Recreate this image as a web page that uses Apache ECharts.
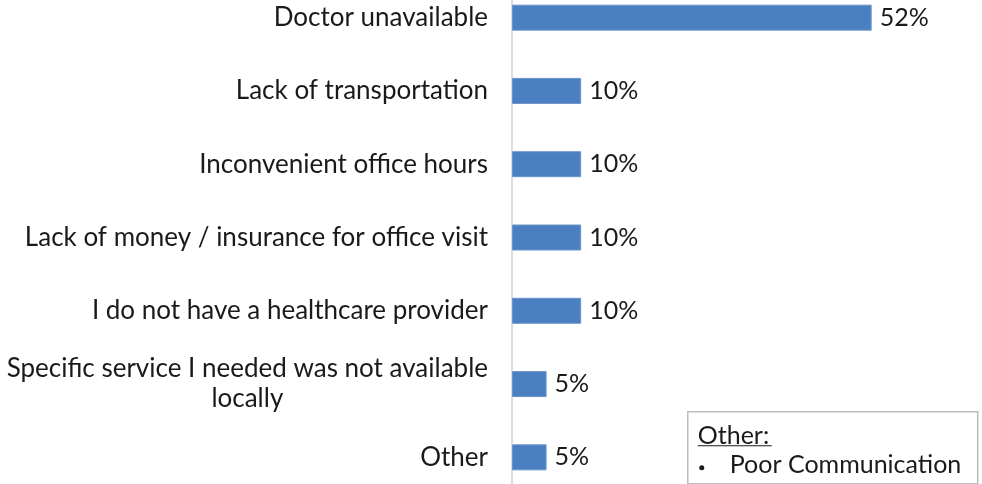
<!DOCTYPE html>
<html>
<head>
<meta charset="utf-8">
<script src="https://cdn.jsdelivr.net/npm/echarts@6/dist/echarts.min.js"></script>
<style>
  html, body { margin: 0; padding: 0; background: #fff; }
  #chart { width: 982px; height: 484px; }
</style>
</head>
<body>
<div id="chart"></div>
<script>
// reasons, top to bottom
const reasons = [
  'Doctor unavailable',
  'Lack of transportation',
  'Inconvenient office hours',
  'Lack of money / insurance for office visit',
  'I do not have a healthcare provider',
  'Specific service I needed was not available\nlocally',
  'Other'
]
const percents = [52, 10, 10, 10, 10, 5, 5]
const otherNotes = ['Poor Communication']

const FONT = 'Lato, "Open Sans", sans-serif'

const chart = echarts.init(document.getElementById('chart'))

const option = {
  animation: false,
  grid: {
    left: 512,
    right: 55,
    top: -19,
    bottom: -10,
    outerBoundsMode: 'none'
  },
  xAxis: {
    type: 'value',
    min: 0,
    max: 60,
    show: false
  },
  yAxis: {
    type: 'category',
    inverse: true,
    data: reasons,
    axisTick: { show: false },
    axisLine: {
      show: true,
      lineStyle: { color: '#dcdcdc', width: 2 }
    },
    axisLabel: {
      margin: 24,
      fontFamily: FONT,
      fontSize: 26,
      color: '#1a1a1a',
      lineHeight: 30,
      // keep wrapped lines centred on each other
      formatter: (val) => val.split('\n').map(s => '{c|' + s + '}').join('\n'),
      rich: {
        c: { align: 'center', fontFamily: FONT, fontSize: 26, color: '#1a1a1a', lineHeight: 30 }
      }
    }
  },
  series: [{
    type: 'bar',
    data: percents,
    barWidth: 26,
    itemStyle: {
      color: '#4a7fc1',
      borderColor: '#6c95cc',
      borderWidth: 1
    },
    label: {
      show: true,
      position: 'right',
      distance: 8,
      formatter: '{c}%',
      fontFamily: FONT,
      fontSize: 25,
      color: '#1a1a1a'
    }
  }],
  graphic: [{
    type: 'group',
    left: 687,
    top: 411,
    children: [
      {
        type: 'rect',
        shape: { x: 0, y: 0, width: 290, height: 72 },
        style: { fill: '#fff', stroke: '#bdbdbd', lineWidth: 1.5 }
      },
      {
        type: 'text',
        x: 10, y: 24,
        style: { text: 'Other:', font: '25px ' + FONT, fill: '#1a1a1a', verticalAlign: 'middle' }
      },
      {
        type: 'line',
        shape: { x1: 10, y1: 34, x2: 84, y2: 34 },
        style: { stroke: '#1a1a1a', lineWidth: 1 }
      },
      {
        type: 'circle',
        shape: { cx: 14, cy: 56, r: 2.5 },
        style: { fill: '#1a1a1a' }
      },
      {
        type: 'text',
        x: 42, y: 53,
        style: { text: otherNotes[0], font: '25px ' + FONT, fill: '#1a1a1a', verticalAlign: 'middle' }
      }
    ]
  }]
}

chart.setOption(option)
</script>
</body>
</html>
